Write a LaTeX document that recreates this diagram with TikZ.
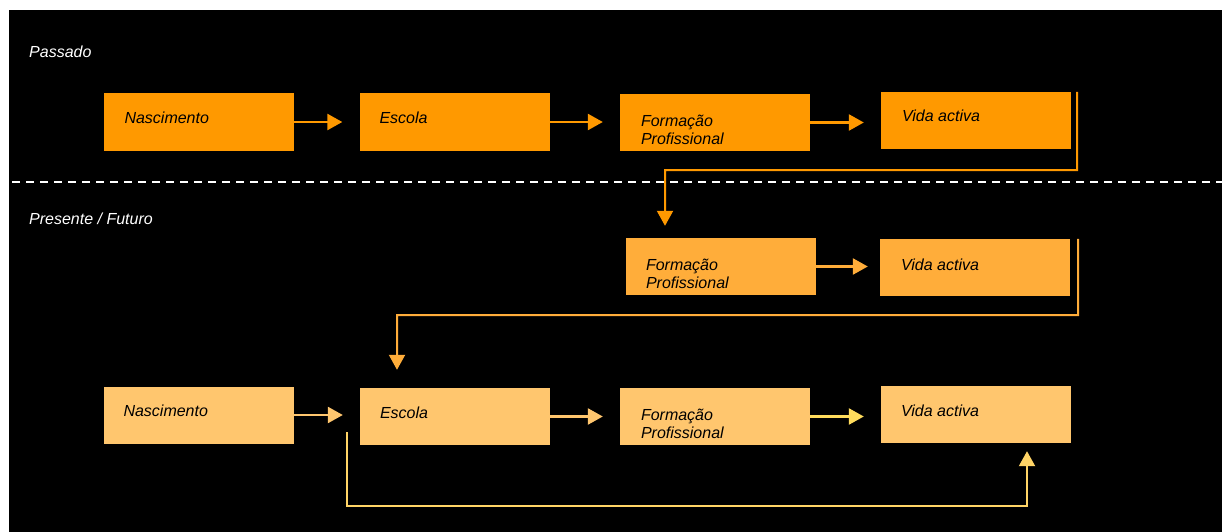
\documentclass[tikz,border=0pt]{standalone}
\usepackage{fontspec}
\setmainfont{Liberation Sans}
\usetikzlibrary{arrows.meta}
\definecolor{cTop}{HTML}{FF9900}
\definecolor{cMid}{HTML}{FFAD3A}
\definecolor{cBot}{HTML}{FFC66E}
\definecolor{cGold}{HTML}{FFDC5C}
\definecolor{cLoop}{HTML}{FFD466}
\tikzset{
	box/.style={fill=#1, draw=none, minimum width=190pt, minimum height=57pt, inner sep=0pt},
	txt/.style={anchor=north west, inner sep=0pt, align=left, font=\fontsize{16}{18.3}\selectfont\itshape},
	arr/.style={draw=#1, line width=2.5pt, -{Triangle[length=15pt, width=16pt]}, shorten >=17pt},
	link/.style={draw=#1, line width=2pt, -{Triangle[length=15pt, width=16pt]}},
	sep/.style={draw=white, line width=2.4pt, dash pattern=on 8pt off 6pt}
}
\begin{document}
\begin{tikzpicture}[x=1pt, y=-1pt]
	\useasboundingbox (0,0) rectangle (1222,532);
	\fill[white] (0,0) rectangle (1222,532);
	\fill[black] (9,10) rectangle (1222,532);
	% periodos
	\node[txt, text=white] (lPast) at (29,46) {Passado};
	\node[txt, text=white] (lNow) at (29,213) {Presente / Futuro};
	\draw[sep] (12,182) -- (1222,182);
	% passado
	\node[box=cTop] (pN) at (198.5,122) {};
	\node[box=cTop] (pE) at (454.5,122) {};
	\node[box=cTop] (pF) at (715,122.5) {};
	\node[box=cTop] (pV) at (976,120.5) {};
	\node[txt] (tpN) at ([shift={(21,18)}]pN.north west) {Nascimento};
	\node[txt] (tpE) at ([shift={(20,18)}]pE.north west) {Escola};
	\node[txt] (tpF) at ([shift={(21,21)}]pF.north west) {Formação\\Profissional};
	\node[txt] (tpV) at ([shift={(21,18)}]pV.north west) {Vida activa};
	\draw[arr=cTop] (pN.east) -- (pN.east -| pE.west);
	\draw[arr=cTop] (pE.east) -- (pE.east -| pF.west);
	\draw[arr=cTop] (pF.east) -- (pF.east -| pV.west);
	% presente / futuro
	\node[box=cMid] (mF) at (721,266.5) {};
	\node[box=cMid] (mV) at (975,267.5) {};
	\node[txt] (tmF) at ([shift={(20,21)}]mF.north west) {Formação\\Profissional};
	\node[txt] (tmV) at ([shift={(21,20)}]mV.north west) {Vida activa};
	\draw[arr=cMid, shorten >=12pt] (mF.east) -- (mF.east -| mV.west);
	\node[box=cBot] (bN) at (198.5,415) {};
	\node[box=cBot] (bE) at (455,416.5) {};
	\node[box=cBot] (bF) at (715,416.5) {};
	\node[box=cBot] (bV) at (976,414.5) {};
	\node[txt] (tbN) at ([shift={(20,18)}]bN.north west) {Nascimento};
	\node[txt] (tbE) at ([shift={(20,19)}]bE.north west) {Escola};
	\node[txt] (tbF) at ([shift={(21,21)}]bF.north west) {Formação\\Profissional};
	\node[txt] (tbV) at ([shift={(20,19)}]bV.north west) {Vida activa};
	\draw[arr=cBot] (bN.east) -- (bN.east -| bE.west);
	\draw[arr=cBot] (bE.east) -- (bE.east -| bF.west);
	\draw[arr=cGold] (bF.east) -- (bF.east -| bV.west);
	% ligacoes
	\coordinate (pTurn) at (1077,170);
	\coordinate (pDrop) at (665,170);
	\draw[link=cTop, shorten >=12pt] ([xshift=6pt]pV.north east) -- (pTurn) -- (pDrop) -- (pDrop |- mF.north);
	\coordinate (mTurn) at (1078,315);
	\coordinate (mDrop) at (397,315);
	\draw[link=cMid, shorten >=18pt] ([xshift=8pt]mV.north east) -- (mTurn) -- (mDrop) -- (mDrop |- bE.north);
	\coordinate (bStart) at (347,432);
	\coordinate (bTurnL) at (347,506);
	\coordinate (bTurnR) at (1027,506);
	\draw[link=cLoop, shorten >=8pt] (bStart) -- (bTurnL) -- (bTurnR) -- (bTurnR |- bV.south);
\end{tikzpicture}
\end{document}
